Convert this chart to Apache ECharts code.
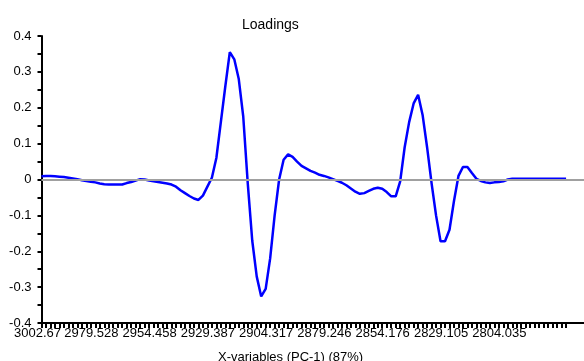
<!DOCTYPE html>
<html>
<head>
<meta charset="utf-8">
<script src="https://cdn.jsdelivr.net/npm/echarts@6/dist/echarts.min.js"></script>
<style>
html,body{margin:0;padding:0;background:#fff;}
#chart{width:584px;height:361px;}
</style>
</head>
<body>
<div id="chart"></div>
<script>
const startWavenumber = 3002.67;
const wavenumberStep = 1.928496;
const categoryCount = 122;

// Tick label positions (category index) and texts
const tickIndex = [0, 12, 25, 38, 51, 64, 77, 90, 103];
const tickLabels = ['3002.67', '2979.528', '2954.458', '2929.387', '2904.317', '2879.246', '2854.176', '2829.105', '2804.035'];

// PC-1 loadings
const loadings = [
  0.009, 0.010, 0.010, 0.009, 0.008, 0.007, 0.005, 0.003, 0.001, -0.002,
  -0.004, -0.006, -0.008, -0.011, -0.013, -0.014, -0.014, -0.014, -0.014, -0.010,
  -0.007, -0.003, 0.001, 0.000, -0.003, -0.005, -0.007, -0.009, -0.011, -0.014,
  -0.020, -0.030, -0.038, -0.046, -0.053, -0.057, -0.045, -0.020, 0.005, 0.060,
  0.160, 0.260, 0.355, 0.335, 0.280, 0.175, -0.010, -0.170, -0.270, -0.326,
  -0.305, -0.220, -0.100, 0.000, 0.055, 0.070, 0.063, 0.050, 0.038, 0.031,
  0.024, 0.019, 0.013, 0.010, 0.006, 0.001, -0.004, -0.009, -0.016, -0.025,
  -0.034, -0.040, -0.038, -0.032, -0.026, -0.023, -0.026, -0.035, -0.047, -0.047,
  -0.005, 0.090, 0.160, 0.212, 0.236, 0.180, 0.090, -0.010, -0.100, -0.172,
  -0.172, -0.140, -0.060, 0.010, 0.035, 0.035, 0.018, 0.002, -0.004, -0.008,
  -0.010, -0.008, -0.007, -0.005, 0.000, 0.002, 0.002, 0.002, 0.002, 0.002,
  0.002, 0.002, 0.002, 0.002, 0.002, 0.002, 0.002, 0.002
];

const categories = [];
for (let i = 0; i < categoryCount; i++) {
  categories.push((startWavenumber - i * wavenumberStep).toFixed(3));
}
// one tick per measured variable
const tickPositions = loadings.map(function (v, i) { return i; });

const chart = echarts.init(document.getElementById('chart'), null, {renderer: 'canvas'});
const font = '"Liberation Sans", Arial, sans-serif';
chart.setOption({
  animation: false,
  backgroundColor: '#ffffff',
  title: [
    {
      text: 'Loadings',
      left: 237, top: 13,
      textStyle: {fontFamily: font, fontSize: 14, fontWeight: 'normal', color: '#000'}
    },
    {
      text: 'X-variables (PC-1) (87%)',
      left: 213, top: 346,
      textStyle: {fontFamily: font, fontSize: 13, fontWeight: 'normal', color: '#000'}
    }
  ],
  grid: {left: 41.5, right: 0, top: 36, bottom: 38, containLabel: false},
  xAxis: {
    type: 'category',
    data: categories,
    boundaryGap: false,
    axisLine: {show: true, onZero: false, lineStyle: {color: '#000', width: 2}},
    axisTick: {
      show: true, length: 5, lineStyle: {color: '#000', width: 2},
      customValues: tickPositions
    },
    axisLabel: {
      show: true,
      interval: function (index) { return tickIndex.indexOf(index) >= 0; },
      formatter: function (val, index) { const k = tickIndex.indexOf(index); return k >= 0 ? tickLabels[k] : ''; },
      fontFamily: font, fontSize: 13, color: '#000', margin: 4,
      padding: [0, 8, 0, 0]
    },
    splitLine: {show: false}
  },
  yAxis: {
    type: 'value',
    min: -0.4, max: 0.4, interval: 0.1,
    axisLine: {show: true, onZero: false, lineStyle: {color: '#000', width: 2}},
    axisTick: {show: true, length: 4, lineStyle: {color: '#000', width: 2}},
    minorTick: {show: true, splitNumber: 2, length: 4, lineStyle: {color: '#000', width: 2}},
    axisLabel: {fontFamily: font, fontSize: 13, color: '#000', margin: 10},
    splitLine: {show: false}
  },
  series: [
    {
      type: 'line',
      data: [],
      z: 1,
      silent: true,
      markLine: {
        silent: true,
        symbol: 'none',
        label: {show: false},
        lineStyle: {color: '#a0a0a0', width: 2, type: 'solid'},
        data: [{yAxis: 0}]
      }
    },
    {
      type: 'line',
      data: loadings,
      z: 3,
      showSymbol: false,
      symbol: 'none',
      smooth: false,
      lineStyle: {color: '#0000ff', width: 2.5},
      itemStyle: {color: '#0000ff'}
    }
  ]
});
</script>
</body>
</html>
